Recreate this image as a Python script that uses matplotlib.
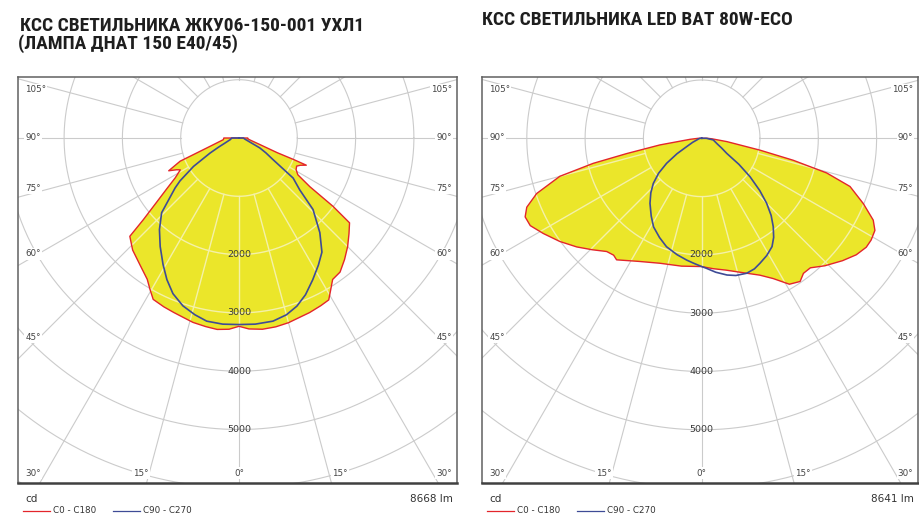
import numpy as np
import matplotlib
matplotlib.use("Agg")
import matplotlib.pyplot as plt
from matplotlib.lines import Line2D
from matplotlib.patches import Polygon

W, H, DPI = 919, 518, 100

# ---------------- data ----------------
title_left = ["КСС СВЕТИЛЬНИКА ЖКУ06-150-001 УХЛ1", "(ЛАМПА ДНАТ 150 Е40/45)"]
title_right = ["КСС СВЕТИЛЬНИКА LED BAT 80W-ECO"]
legend_labels = ["C0 - C180", "C90 - C270"]
unit_label = "cd"
flux_left = "8668 lm"
flux_right = "8641 lm"
ring_values = [1000, 2000, 3000, 4000, 5000, 6000, 7000, 8000]
ring_labels = [2000, 3000, 4000, 5000]
side_angle_labels = ["105°", "90°", "75°", "60°", "45°", "30°"]
bottom_angle_labels = ["15°", "0°", "15°", "30°"]

# Panel 1: ЖКУ06-150-001 (angle from nadir in degrees, intensity in cd)
p1_c0_ang = [0, 3, 7, 11, 15, 19, 22, 26, 29, 31, 33.5, 37, 41, 45, 49, 52.5, 54, 55.5, 58, 61, 64, 66, 68, 68.5, 69, 72.5, 80, 85, 90]
p1_c0_cd = [3230, 3280, 3305, 3300, 3280, 3245, 3230, 3200, 3175, 3050, 2910, 2880, 2760, 2635, 2500, 2390, 1990, 1475, 1190, 1120, 1100, 1150, 1245, 1000, 700, 380, 190, 150, 150]
p1_c180_ang = [0, 3, 6.5, 10, 14, 17, 20.5, 24, 28, 30.5, 33, 38, 43.5, 48, 49.5, 52, 55, 58, 61.5, 63, 65, 68.5, 70, 74, 84, 90]
p1_c180_cd = [3230, 3285, 3305, 3285, 3260, 3225, 3195, 3170, 3135, 3010, 2890, 2760, 2650, 2520, 2160, 1800, 1505, 1290, 1145, 1200, 1330, 1085, 830, 515, 270, 260]
p1_c90_ang = [0, 5, 10.5, 15, 19, 23, 27.5, 32, 36, 40.5, 46, 49.5, 53.5, 57.5, 61, 64.5, 70, 75, 80, 90]
p1_c90_cd = [3200, 3205, 3195, 3140, 3050, 2920, 2740, 2570, 2420, 2135, 1765, 1370, 1155, 695, 530, 395, 190, 130, 100, 75]
p1_c270_ang = [0, 5, 10, 14, 18.5, 23, 27, 31, 36, 41, 46, 52, 54, 58, 62.5, 66, 70, 80, 90]
p1_c270_cd = [3200, 3205, 3190, 3125, 3035, 2900, 2725, 2530, 2300, 2080, 1845, 1390, 1250, 920, 560, 380, 260, 150, 125]

# Panel 2: LED BAT 80W-ECO
p2_c0_ang = [0, 5, 10.5, 17, 23, 27, 31, 34.5, 37, 40, 44, 49, 53, 56.5, 59, 62, 64.5, 68, 72, 74.5, 76.5, 78.5, 82.5, 87, 90]
p2_c0_cd = [2200, 2245, 2300, 2410, 2550, 2700, 2920, 2980, 2900, 2900, 3040, 3200, 3320, 3385, 3390, 3365, 3260, 2990, 2675, 2225, 1615, 1020, 435, 180, 100]
p2_c180_ang = [0, 9, 18.5, 27, 35, 37, 40, 44.5, 49, 54, 59, 63, 66, 68.5, 71.5, 75, 77, 78.5, 81, 85, 90]
p2_c180_cd = [2200, 2220, 2260, 2370, 2545, 2510, 2535, 2680, 2840, 3010, 3170, 3300, 3315, 3225, 2985, 2520, 1910, 1310, 725, 200, 60]
p2_c90_ang = [0, 2, 6, 10.5, 14, 18.5, 22, 25, 29, 33, 36, 39, 42, 45, 48, 51.5, 55, 59, 64, 70, 82, 90]
p2_c90_cd = [2200, 2230, 2310, 2385, 2425, 2440, 2415, 2365, 2300, 2215, 2100, 1950, 1780, 1575, 1340, 1060, 780, 500, 380, 285, 200, 80]
p2_c270_ang = [0, 3.5, 7, 12, 18, 23, 28.5, 33, 38.5, 43, 47, 51, 54.5, 58, 61, 66, 71, 80, 90]
p2_c270_cd = [2200, 2150, 2105, 2040, 1955, 1850, 1730, 1590, 1425, 1280, 1135, 950, 740, 500, 295, 170, 90, 50, 30]

# ---------------- style ----------------
YELLOW = "#ebe62a"
RED = "#e3252b"
BLUE = "#3e4b96"
GRID = "#cbcbcb"
GRID_ON_FILL = "#f4f1a8"
TEXT = "#333333"
SCALE = 0.0583  # pixels per cd

fig = plt.figure(figsize=(W / DPI, H / DPI), dpi=DPI)
fig.patch.set_facecolor("white")


def half(ang, cd, side):
    a = np.radians(np.asarray(ang, float))
    r = np.asarray(cd, float)
    return side * r * np.sin(a), -r * np.cos(a)


def curve(right_ang, right_cd, left_ang, left_cd):
    xr, yr = half(right_ang, right_cd, 1)
    xl, yl = half(left_ang, left_cd, -1)
    x = np.concatenate([[0], xr[::-1], xl, [0]])
    y = np.concatenate([[0], yr[::-1], yl, [0]])
    return x, y


def grid(ax, color, lw, zorder, clip=None):
    t = np.linspace(0, 2 * np.pi, 721)
    arts = []
    for r in ring_values:
        arts += ax.plot(r * np.cos(t), r * np.sin(t), color=color, lw=lw, zorder=zorder)
    for a in range(0, 360, 15):
        ar = np.radians(a)
        rr = np.array([1000, 12000])
        arts += ax.plot(rr * np.sin(ar), -rr * np.cos(ar), color=color, lw=lw, zorder=zorder)
    if clip is not None:
        for art in arts:
            art.set_clip_path(clip)


def panel(box, center, red, blue, flux):
    x0, x1, ytop, ybot = box
    cx, cy = center
    ax = fig.add_axes([x0 / W, 1 - ybot / H, (x1 - x0) / W, (ybot - ytop) / H])
    ax.set_xlim((x0 - cx) / SCALE, (x1 - cx) / SCALE)
    ax.set_ylim(-(ybot - cy) / SCALE, (cy - ytop) / SCALE)
    ax.set_xticks([])
    ax.set_yticks([])
    for s in ax.spines.values():
        s.set_color("#606060")
        s.set_linewidth(1.1)
    ax.spines["bottom"].set_linewidth(1.8)
    ax.spines["bottom"].set_color("#404040")

    grid(ax, GRID, 0.8, 1)
    rx, ry = curve(*red)
    poly = Polygon(np.column_stack([rx, ry]), closed=True, fc=YELLOW, ec="none", zorder=2)
    ax.add_patch(poly)
    grid(ax, GRID_ON_FILL, 1.0, 3, clip=poly)
    ax.plot(rx, ry, color=RED, lw=1.0, zorder=5, solid_joinstyle="round")
    bx, by = curve(*blue)
    ax.plot(bx, by, color=BLUE, lw=1.2, zorder=6, solid_joinstyle="round")

    for v in ring_labels:
        ax.text(0, -v, str(v), ha="center", va="center", fontsize=6.8, color="#3a3a3a", zorder=7)

    bb = dict(boxstyle="square,pad=0.12", fc="white", ec="none")
    side_y = [12.7, 60.7, 111.5, 176.7, 259.7, 395.7]
    hbox = ybot - ytop
    wbox = x1 - x0
    for lab, yy in zip(side_angle_labels, side_y):
        fy = 1 - yy / hbox
        ax.text(7 / wbox, fy, lab, transform=ax.transAxes, ha="left", va="center",
                fontsize=6.3, color="#444444", bbox=bb, zorder=8)
        ax.text(1 - 5 / wbox, fy, lab, transform=ax.transAxes, ha="right", va="center",
                fontsize=6.3, color="#444444", bbox=bb, zorder=8)
    bxpos = [(cx - 98 - x0) / wbox, (cx - x0) / wbox, (cx + 101 - x0) / wbox]
    for lab, fx in zip(bottom_angle_labels[:3], bxpos):
        ax.text(fx, 1 - 395.7 / hbox, lab, transform=ax.transAxes, ha="center", va="center",
                fontsize=6.3, color="#444444", bbox=bb, zorder=8)

    # labels below box
    fig.text((x0 + 7) / W, 1 - 502 / H, unit_label, ha="left", va="baseline", fontsize=7.5, color=TEXT)
    fig.text((x1 - 4) / W, 1 - 502 / H, flux, ha="right", va="baseline", fontsize=7.5, color=TEXT)
    ly = 1 - 510.7 / H
    fig.add_artist(Line2D([(x0 + 4.5) / W, (x0 + 32) / W], [ly, ly], color=RED, lw=0.9))
    fig.text((x0 + 35) / W, ly, legend_labels[0], ha="left", va="center", fontsize=6.3, color=TEXT)
    fig.add_artist(Line2D([(x0 + 94.5) / W, (x0 + 122) / W], [ly, ly], color=BLUE, lw=0.9))
    fig.text((x0 + 125) / W, ly, legend_labels[1], ha="left", va="center", fontsize=6.3, color=TEXT)
    return ax


panel((18.3, 456.7, 77.3, 483.3), (239.0, 138.0),
      (p1_c0_ang, p1_c0_cd, p1_c180_ang, p1_c180_cd),
      (p1_c90_ang, p1_c90_cd, p1_c270_ang, p1_c270_cd), flux_left)
panel((482.3, 918.3, 77.3, 483.3), (701.7, 138.3),
      (p2_c0_ang, p2_c0_cd, p2_c180_ang, p2_c180_cd),
      (p2_c90_ang, p2_c90_cd, p2_c270_ang, p2_c270_cd), flux_right)

# titles (condensed heavy face, fitted to the reference width)
tfont = dict(family=["Roboto Condensed", "Noto Sans", "DejaVu Sans"], fontstretch="condensed",
             fontweight="heavy", color="#1e1e1e")
titles = [
    (title_left[0], 20, 30.7, 347),
    (title_left[1], 18.5, 48.9, 225),
    (title_right[0], 482, 25.0, 316),
]
objs = []
for txt, x, yb, wt in titles:
    t = fig.text(x / W, 1 - yb / H, txt, ha="left", va="baseline", fontsize=12, **tfont)
    objs.append((t, wt))
renderer = fig.canvas.get_renderer()
for t, wt in objs:
    w = t.get_window_extent(renderer).width
    t.set_fontsize(min(12 * wt / w, 14.0))

fig.savefig("out.png", dpi=DPI, facecolor="white")
